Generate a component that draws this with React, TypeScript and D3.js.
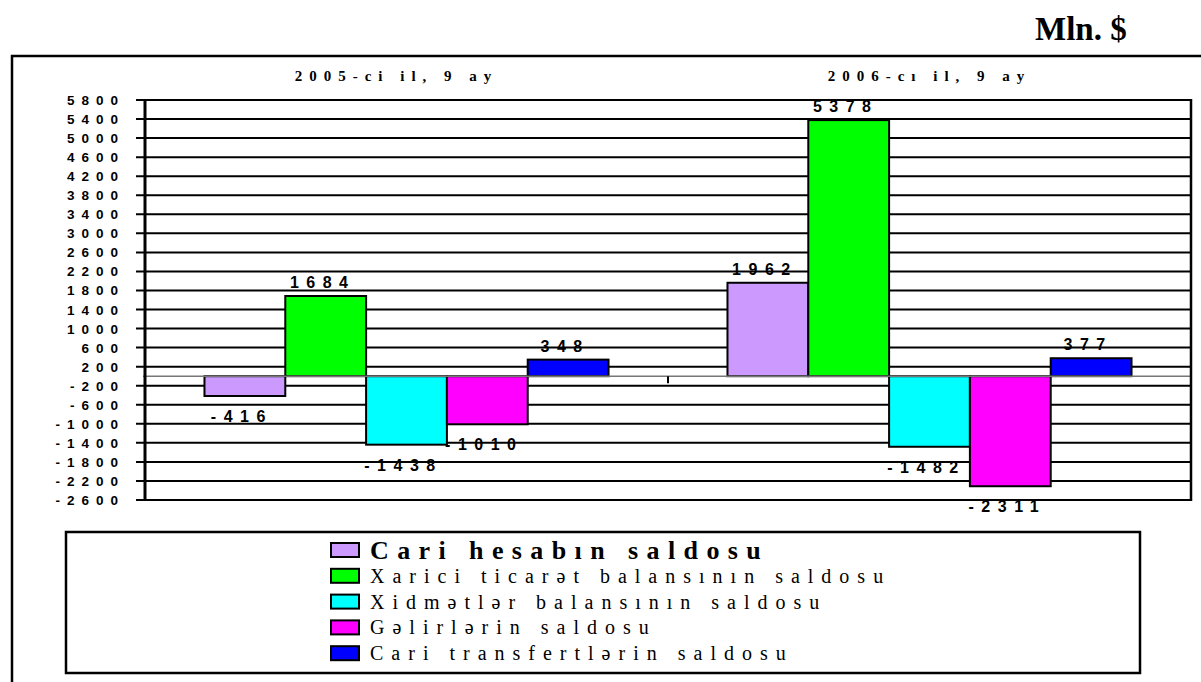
import * as d3 from 'd3'

const groups = ['2005-ci il, 9 ay', '2006-cı il, 9 ay']
const seriesNames = [
  'Cari hesabın saldosu',
  'Xarici ticarət balansının saldosu',
  'Xidmətlər balansının saldosu',
  'Gəlirlərin saldosu',
  'Cari transfertlərin saldosu',
]
const seriesColors = ['#CC99FF', '#00FF00', '#00FFFF', '#FF00FF', '#0000FF']
const values2005 = [-416, 1684, -1438, -1010, 348]
const values2006 = [1962, 5378, -1482, -2311, 377]
const yTickValues = [
  5800, 5400, 5000, 4600, 4200, 3800, 3400, 3000, 2600, 2200, 1800, 1400, 1000, 600, 200,
  -200, -600, -1000, -1400, -1800, -2200, -2600,
]
const unitLabel = 'Mln. $'

const W = 1201
const H = 682
const plot = { left: 145, right: 1191, top: 100, bottom: 500 }

export default function App() {
  const y = d3.scaleLinear().domain([-2600, 5800]).range([plot.bottom, plot.top])
  const x0 = d3.scaleBand<string>().domain(groups).range([plot.left, plot.right])
  const x1 = d3
    .scaleBand<number>()
    .domain(d3.range(seriesNames.length))
    .range([0, x0.bandwidth()])
    .paddingInner(0)
    .paddingOuter(0.736)

  const valuesByGroup = [values2005, values2006]
  const bars = groups.flatMap((g, gi) =>
    valuesByGroup[gi].map((v, si) => ({ g, si, v })),
  )

  const sans = '"Liberation Sans", Arial, sans-serif'
  const serif = '"Liberation Serif", "Times New Roman", serif'

  return (
    <svg
      width={W}
      height={H}
      style={{ position: 'absolute', left: 0, top: 0, display: 'block', background: '#fff' }}
    >
      {/* outer frame */}
      <path d={`M12,${H + 5} L12,56 L${W + 5},56`} fill="none" stroke="#000" strokeWidth={2.5} />

      <text x={1035} y={40} fontFamily={serif} fontWeight="bold" fontSize={33} fill="#000">
        {unitLabel}
      </text>

      {/* group titles */}
      {groups.map((g, i) => (
        <text
          key={g}
          x={(x0(g) ?? 0) + x0.bandwidth() / 2 + (i === 0 ? -10 : 0)}
          y={81}
          textAnchor="middle"
          fontFamily={serif}
          fontWeight="bold"
          fontSize={15}
          letterSpacing={7}
          fill="#000"
        >
          {g}
        </text>
      ))}

      {/* gridlines + ticks */}
      {yTickValues.map((t) => (
        <g key={t}>
          <line x1={136} x2={plot.right} y1={y(t)} y2={y(t)} stroke="#000" strokeWidth={2} />
          <text
            x={125}
            y={y(t) + 5}
            textAnchor="end"
            fontFamily={sans}
            fontWeight="bold"
            fontSize={13.5}
            letterSpacing={7}
            fill="#000"
          >
            {t}
          </text>
        </g>
      ))}

      {/* bars */}
      {bars.map((b) => {
        const bx = (x0(b.g) ?? 0) + (x1(b.si) ?? 0)
        const y0 = y(0)
        const yv = y(b.v)
        return (
          <rect
            key={`${b.g}-${b.si}`}
            x={bx}
            y={Math.min(y0, yv)}
            width={x1.bandwidth()}
            height={Math.abs(yv - y0)}
            fill={seriesColors[b.si]}
            stroke="#000"
            strokeWidth={2}
          />
        )
      })}

      {/* zero line */}
      <line x1={143} x2={plot.right} y1={y(0)} y2={y(0)} stroke="#777" strokeWidth={1.5} />
      <line
        x1={x0(groups[1]) ?? 0}
        x2={x0(groups[1]) ?? 0}
        y1={y(0)}
        y2={y(0) + 7}
        stroke="#000"
        strokeWidth={2}
      />

      {/* axis + right border */}
      <line x1={plot.left} x2={plot.left} y1={plot.top - 1} y2={plot.bottom + 1} stroke="#000" strokeWidth={3} />
      <line x1={plot.right} x2={plot.right} y1={plot.top - 1} y2={plot.bottom + 1} stroke="#000" strokeWidth={2.5} />

      {/* value labels */}
      {bars.map((b) => {
        const cx = (x0(b.g) ?? 0) + (x1(b.si) ?? 0) + x1.bandwidth() / 2
        const ly = b.v >= 0 ? y(b.v) - 8 : y(b.v) + 26
        return (
          <text
            key={`l-${b.g}-${b.si}`}
            x={cx}
            y={ly}
            dx={-3}
            textAnchor="middle"
            fontFamily={sans}
            fontWeight="bold"
            fontSize={16}
            letterSpacing={7.5}
            fill="#000"
          >
            {b.v}
          </text>
        )
      })}

      {/* legend */}
      <rect x={66} y={532} width={1074} height={141} fill="#fff" stroke="#000" strokeWidth={2.5} />
      {seriesNames.map((name, i) => {
        const cy = 550 + i * 25.8
        return (
          <g key={name}>
            <rect x={331} y={cy - 7} width={28} height={14} fill={seriesColors[i]} stroke="#000" strokeWidth={2} />
            <text
              x={370}
              y={cy + (i === 0 ? 9 : 7)}
              fontFamily={serif}
              fontWeight={i === 0 ? 'bold' : 'normal'}
              fontSize={i === 0 ? 26 : 20}
              letterSpacing={i === 0 ? 8.4 : 8}
              fill="#000"
            >
              {name}
            </text>
          </g>
        )
      })}
    </svg>
  )
}
